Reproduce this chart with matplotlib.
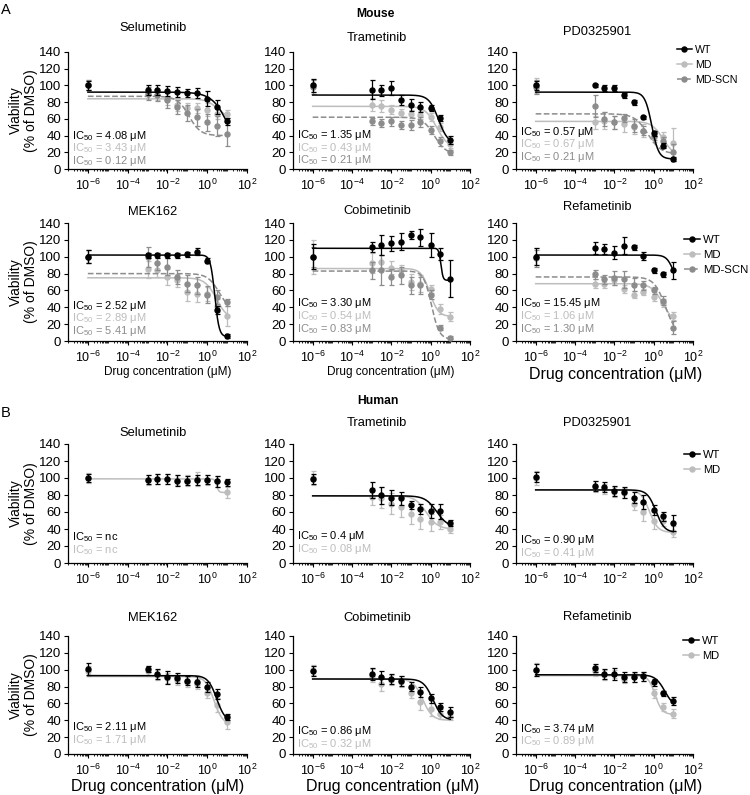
import numpy as np
import matplotlib
matplotlib.use('Agg')
import matplotlib.pyplot as plt
from matplotlib.ticker import LogLocator, NullFormatter
from matplotlib.lines import Line2D

plt.rcParams['font.family'] = ['Liberation Sans', 'DejaVu Sans']
plt.rcParams['mathtext.fontset'] = 'custom'
plt.rcParams['mathtext.rm'] = 'Liberation Sans'
plt.rcParams['mathtext.it'] = 'Liberation Sans:italic'
plt.rcParams['mathtext.bf'] = 'Liberation Sans:bold'
plt.rcParams['mathtext.default'] = 'regular'

# ---- data ----
conc = [1e-6, 1e-3, 3e-3, 1e-2, 3e-2, 0.1, 0.3, 1, 3, 10]
drugs = ['Selumetinib', 'Trametinib', 'PD0325901', 'MEK162', 'Cobimetinib', 'Refametinib']

mouse_wt_mean = [
    [100, 94, 94, 93, 92, 91, 91, 84, 74, 57],
    [100, 95, 94, 97, 83, 77, 74, 73, 61, 35],
    [100, 100, 97, 97, 88, 80, 62, 43, 28, 12],
    [100, 102, 102, 102, 102, 103, 106, 95, 37, 6],
    [100, 112, 114, 116, 118, 126, 123, 114, 103, 74],
    [100, 110, 109, 105, 113, 111, 101, 84, 79, 84],
]
mouse_wt_err = [
    [5, 6, 6, 6, 6, 5, 6, 9, 8, 4],
    [8, 11, 7, 8, 6, 7, 6, 3, 4, 5],
    [5, 2, 4, 4, 3, 3, 2, 3, 3, 2],
    [8, 3, 3, 3, 3, 3, 4, 3, 5, 2],
    [15, 6, 12, 9, 10, 5, 10, 14, 7, 22],
    [10, 7, 6, 8, 10, 3, 5, 3, 3, 10],
]
mouse_md_mean = [
    [100, 90, 88, 84, 76, 73, 73, 71, 66, 66],
    [100, 77, 75, 71, 67, 66, 65, 62, 50, 30],
    [100, 56, 58, 56, 54, 50, 46, 38, 38, 31],
    [100, 85, 84, 76, 72, 58, 56, 56, 42, 30],
    [100, 93, 94, 87, 84, 70, 68, 62, 38, 29],
    [100, 68, 68, 72, 62, 55, 58, 52, 45, 30],
]
mouse_md_err = [
    [6, 6, 6, 8, 7, 6, 6, 8, 6, 5],
    [8, 8, 7, 5, 5, 5, 5, 5, 5, 5],
    [9, 8, 10, 8, 10, 8, 8, 6, 6, 18],
    [8, 10, 8, 10, 8, 10, 10, 8, 8, 12],
    [20, 12, 8, 8, 6, 10, 10, 5, 6, 5],
    [10, 5, 5, 5, 5, 4, 4, 4, 5, 5],
]
mouse_scn_mean = [
    [100, 90, 88, 82, 74, 67, 62, 56, 51, 42],
    [98, 57, 55, 57, 53, 53, 56, 47, 33, 20],
    [98, 75, 60, 56, 61, 52, 46, 40, 33, 20],
    [100, 100, 92, 88, 76, 68, 66, 55, 52, 46],
    [100, 84, 84, 76, 78, 66, 66, 55, 16, 4],
    [98, 79, 73, 75, 73, 67, 66, 60, 48, 16],
]
mouse_scn_err = [
    [6, 8, 7, 9, 8, 9, 10, 10, 12, 14],
    [8, 4, 5, 5, 5, 6, 6, 5, 5, 3],
    [8, 13, 8, 8, 5, 8, 5, 5, 5, 10],
    [8, 12, 8, 10, 8, 10, 10, 10, 8, 4],
    [12, 10, 18, 10, 10, 10, 10, 5, 3, 2],
    [10, 5, 5, 8, 10, 8, 5, 4, 5, 8],
]
# fitted curves: (top, bottom, ic50, hill)
mouse_wt_fit = [(92, 0, 15, 1.0), (88.5, 30, 2.5, 1.8), (92, 12, 0.8, 2.5),
                (102, 5, 2.4, 4), (110, 72, 3.3, 8), (102, 65, 10, 2.5)]
mouse_md_fit = [(84, 60, 3.43, 1.5), (75, 25, 2, 1.5), (57, 15, 3, 1.5),
                (75, 25, 2.9, 1.5), (86, 29, 0.9, 2), (68, 20, 3, 1.5)]
mouse_scn_fit = [(87, 40, 0.12, 1.5), (62, 18, 1.5, 1.5), (66, 18, 0.5, 1.3),
                 (80, 35, 4, 1.5), (83, 2, 1.1, 2.2), (76, 5, 4, 1.5)]
mouse_wt_ic50 = ['4.08', '1.35', '0.57', '2.52', '3.30', '15.45']
mouse_md_ic50 = ['3.43', '0.43', '0.67', '2.89', '0.54', '1.06']
mouse_scn_ic50 = ['0.12', '0.21', '0.21', '5.41', '0.83', '1.30']

human_wt_mean = [
    [100, 98, 99, 99, 97, 97, 98, 98, 96, 95],
    [99, 86, 80, 77, 76, 68, 64, 61, 61, 47],
    [101, 91, 89, 85, 83, 77, 72, 62, 55, 47],
    [101, 101, 95, 91, 90, 87, 86, 79, 71, 44],
    [99, 95, 91, 89, 87, 80, 74, 66, 56, 50],
    [100, 102, 95, 95, 91, 91, 92, 85, 72, 63],
]
human_wt_err = [
    [5, 5, 6, 6, 6, 5, 6, 5, 6, 4],
    [6, 9, 10, 9, 8, 5, 6, 8, 9, 4],
    [6, 6, 6, 6, 6, 6, 8, 6, 5, 9],
    [7, 4, 6, 8, 6, 5, 6, 6, 6, 4],
    [6, 7, 8, 6, 6, 5, 6, 5, 5, 6],
    [7, 5, 6, 7, 6, 6, 5, 4, 3, 5],
]
human_md_mean = [
    [100, 98, 99, 99, 98, 97, 99, 98, 96, 83],
    [100, 78, 77, 70, 66, 58, 52, 48, 48, 40],
    [100, 90, 87, 84, 82, 70, 60, 50, 50, 37],
    [99, 99, 94, 90, 88, 85, 83, 72, 58, 38],
    [100, 93, 83, 88, 86, 72, 62, 53, 47, 44],
    [100, 98, 94, 95, 89, 91, 92, 72, 56, 48],
]
human_md_err = [
    [6, 6, 6, 6, 6, 6, 8, 6, 6, 6],
    [8, 10, 12, 12, 12, 12, 12, 10, 8, 5],
    [8, 6, 6, 6, 6, 8, 10, 10, 6, 6],
    [6, 6, 6, 6, 6, 6, 6, 6, 8, 8],
    [6, 8, 8, 6, 6, 6, 10, 8, 6, 4],
    [8, 6, 6, 5, 5, 5, 5, 5, 5, 5],
]
human_wt_fit = [None, (79, 42, 2, 1.5), (86, 36, 1.3, 2),
                (93, 38, 3, 2), (89, 40, 1.3, 1.8), (94, 55, 3.7, 1.8)]
human_md_fit = [(99, 83, 3, 8), (79, 40, 0.6, 1.5), (86, 36, 0.6, 2),
                (92, 35, 2.2, 2), (89, 40, 0.4, 1.8), (93, 47, 1.2, 2.5)]
human_wt_ic50 = ['nc', '0.4', '0.90', '2.11', '0.86', '3.74']
human_md_ic50 = ['nc', '0.08', '0.41', '1.71', '0.32', '0.89']

# ---- layout (pixels) ----
W, H = 750, 795
col_x = [68, 293, 516]
col_w = [179, 177, 177]
row_y = [(52, 169), (223, 341), (444, 563), (636, 754)]
col_cx = [153, 377, 597]
title_y = [28, 38, 32, 212, 211, 207, 433, 423, 423, 618, 618, 617]
ic_y0 = [0.285, 0.29, 0.32, 0.30, 0.32, 0.32, 0.215, 0.225, 0.195, 0.225, 0.195, 0.215]
leg_pos = [(677, 45), (684, 235), (684, 450), (683, 636)]
leg_size = [7.7, 8.2, 8.0, 8.0]

C_WT, C_MD, C_SCN = 'black', '#bdbdbd', '#8c8c8c'


def fx(x):
    return x / W


def fy(y):
    return 1 - y / H


def curve(x, top, bottom, ic50, hill):
    return bottom + (top - bottom) / (1 + (x / ic50) ** hill)


fig = plt.figure(figsize=(7.5, 7.95), dpi=100)
xs = np.logspace(-6, 1, 400)

for k in range(12):
    r, c = k // 3, k % 3
    human = r >= 2
    i = k % 6
    ax = fig.add_axes([fx(col_x[c]), fy(row_y[r][1]), col_w[c] / W,
                       (row_y[r][1] - row_y[r][0]) / H])
    if human:
        groups = [(human_md_mean[i], human_md_err[i], human_md_fit[i], C_MD, '-', 'MD', human_md_ic50[i], 2),
                  (human_wt_mean[i], human_wt_err[i], human_wt_fit[i], C_WT, '-', 'WT', human_wt_ic50[i], 4)]
    else:
        groups = [(mouse_md_mean[i], mouse_md_err[i], mouse_md_fit[i], C_MD, '-', 'MD', mouse_md_ic50[i], 2),
                  (mouse_scn_mean[i], mouse_scn_err[i], mouse_scn_fit[i], C_SCN, '--', 'MD-SCN', mouse_scn_ic50[i], 3),
                  (mouse_wt_mean[i], mouse_wt_err[i], mouse_wt_fit[i], C_WT, '-', 'WT', mouse_wt_ic50[i], 4)]
    for mean, err, fit, col, ls, lab, ic, z in groups:
        if fit is not None:
            ax.plot(xs, curve(xs, *fit), color=col, ls=ls, lw=1.1, zorder=z)
        ax.errorbar(conc, mean, yerr=err, fmt='o', color=col, ms=3.6,
                    elinewidth=0.9, capsize=1.8, capthick=0.9, zorder=z + 0.5)

    # IC50 labels: WT first, then MD, then MD-SCN
    labs = {g[5]: g for g in groups}
    n = 0
    for name in ['WT', 'MD', 'MD-SCN']:
        if name in labs:
            g = labs[name]
            val = g[6]
            txt = 'IC$_{50}$ = ' + val + ('' if val == 'nc' else ' μM')
            ax.text(0.02, ic_y0[k] - 0.108 * n, txt, transform=ax.transAxes,
                    color=g[3], fontsize=8, va='center', ha='left')
            n += 1

    ax.set_xscale('log')
    ax.set_xlim(1e-7, 1e2)
    ax.set_ylim(0, 140)
    ax.set_yticks(range(0, 141, 20))
    ax.set_xticks([1e-6, 1e-4, 1e-2, 1, 1e2])
    ax.xaxis.set_minor_locator(LogLocator(base=10, subs=np.arange(1, 10), numticks=60))
    ax.xaxis.set_minor_formatter(NullFormatter())
    for s in ['top', 'right']:
        ax.spines[s].set_visible(False)
    for s in ['left', 'bottom']:
        ax.spines[s].set_linewidth(0.9)
    ax.tick_params(axis='both', which='major', length=3, width=0.8)
    ax.tick_params(axis='x', which='major', pad=3, labelsize=9)
    ax.tick_params(axis='y', which='major', pad=2, labelsize=9.5)
    ax.tick_params(axis='x', which='minor', length=1.6, width=0.6)

    fig.text(fx(col_cx[c]), fy(title_y[k]), drugs[i], ha='center', va='center', fontsize=9.3)

    if c == 2:
        names = ['WT', 'MD'] if human else ['WT', 'MD', 'MD-SCN']
        handles = []
        for name in names:
            g = labs[name]
            handles.append(Line2D([], [], color=g[3], ls=g[4], lw=1.1, marker='o', ms=3.6))
        ax.legend(handles, names, loc='upper left', bbox_to_anchor=(fx(leg_pos[r][0]), fy(leg_pos[r][1])),
                  bbox_transform=fig.transFigure, frameon=False, fontsize=leg_size[r],
                  handlelength=1.4, handletextpad=0.3, labelspacing=0.45,
                  borderpad=0, borderaxespad=0)

    if c == 0:
        fig.text(fx(23), fy((row_y[r][0] + row_y[r][1]) / 2), 'Viability\n(% of DMSO)',
                 rotation=90, ha='center', va='center', fontsize=10, linespacing=1.1)

# x labels
fig.text(fx(168), fy(372), 'Drug concentration (μM)', ha='center', va='center', fontsize=8.5)
fig.text(fx(391), fy(372), 'Drug concentration (μM)', ha='center', va='center', fontsize=8.5)
fig.text(fx(616), fy(374), 'Drug concentration (μM)', ha='center', va='center', fontsize=11.5)
fig.text(fx(158), fy(786), 'Drug concentration (μM)', ha='center', va='center', fontsize=11.5)
fig.text(fx(393), fy(786), 'Drug concentration (μM)', ha='center', va='center', fontsize=11.5)
fig.text(fx(616), fy(787), 'Drug concentration (μM)', ha='center', va='center', fontsize=11.5)

fig.text(fx(375), fy(14), 'Mouse', ha='center', va='center', fontsize=8.7, fontweight='bold')
fig.text(fx(378), fy(401), 'Human', ha='center', va='center', fontsize=8.7, fontweight='bold')
fig.text(fx(6), fy(10), 'A', ha='center', va='center', fontsize=10.5)
fig.text(fx(6), fy(413), 'B', ha='center', va='center', fontsize=10.5)

fig.savefig('out.png', dpi=100)
